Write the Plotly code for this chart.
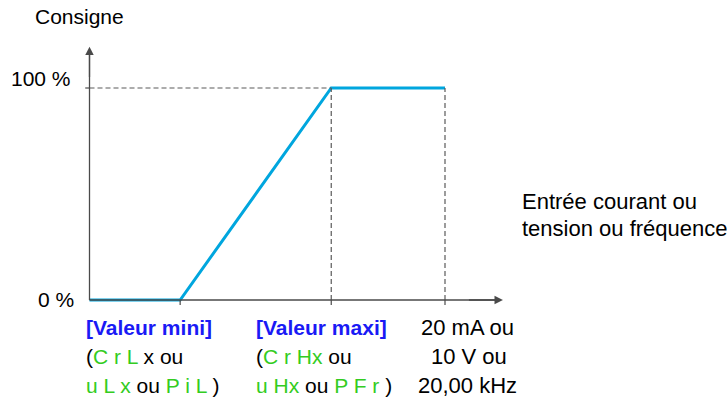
import plotly.graph_objects as go

# ---- data ----
x_input = [0, 25.5, 68, 100]          # % of input range: origin, mini, maxi, max
y_setpoint = [0, 0, 100, 100]         # % setpoint
x_ticks = [25.5, 68, 100]
y_labels = ["0 %", "100 %"]
y_label_vals = [0, 100]

W, H = 727, 399
BLUE = "#00A6DE"
AXIS = "#4a4a4a"
DASH = "#5a5a5a"
TXTBLUE = "#1A1AF5"
GREEN = "#33CC22"
FONT = "Liberation Sans, Arial, sans-serif"

# axis scale: x=0 -> px 89.5, x=100 -> px 445 ; y=0 -> px 300, y=100 -> px 88
sx = (445 - 89.5) / 100.0
sy = (300 - 88) / 100.0
xr = [-89.5 / sx, (W - 89.5) / sx]
yr = [-(H - 300) / sy, 300 / sy]

fig = go.Figure()

# dashed guides
xmaxi = x_input[2]
xmax = x_input[3]
fig.add_shape(type="line", x0=0, x1=xmaxi, y0=100, y1=100,
              line=dict(color=DASH, width=1.2, dash="5px,3px"))
fig.add_shape(type="line", x0=xmaxi, x1=xmaxi, y0=0, y1=100,
              line=dict(color=DASH, width=1.2, dash="5px,3px"))
fig.add_shape(type="line", x0=xmax, x1=xmax, y0=0, y1=100,
              line=dict(color=DASH, width=1.2, dash="5px,3px"))

# axes lines
x_axis_end = 116.3
y_axis_end = 119.5
fig.add_shape(type="line", x0=0, x1=x_axis_end - 2, y0=0, y1=0,
              line=dict(color=AXIS, width=1.3))
fig.add_shape(type="line", x0=0, x1=0, y0=0, y1=y_axis_end - 3,
              line=dict(color=AXIS, width=1.3))
# ticks
for xt in x_ticks:
    fig.add_shape(type="line", x0=xt, x1=xt, y0=0, y1=-2.4,
                  line=dict(color=AXIS, width=1.2))
for yv in y_label_vals[1:]:
    fig.add_shape(type="line", x0=-1.2, x1=0, y0=yv, y1=yv,
                  line=dict(color=AXIS, width=1.2))

# arrowheads
fig.add_annotation(x=x_axis_end, y=0, ax=x_axis_end - 10, ay=0,
                   xref="x", yref="y", axref="x", ayref="y", text="",
                   showarrow=True, arrowhead=2, arrowsize=1.3, arrowwidth=1.3,
                   arrowcolor=AXIS, standoff=0)
fig.add_annotation(x=0, y=y_axis_end, ax=0, ay=y_axis_end - 15,
                   xref="x", yref="y", axref="x", ayref="y", text="",
                   showarrow=True, arrowhead=2, arrowsize=1.3, arrowwidth=1.3,
                   arrowcolor=AXIS, standoff=0)

# the characteristic
fig.add_trace(go.Scatter(x=x_input, y=y_setpoint, mode="lines",
                         line=dict(color=BLUE, width=3), hoverinfo="skip",
                         showlegend=False))


def px(x):
    return x / W


def py(y):
    return 1 - y / H


def txt(text, x, y, anchor="left", color="black", bold=False, size=21):
    if bold:
        text = "<b>" + text + "</b>"
    fig.add_annotation(text=text, x=px(x), y=py(y), xref="paper", yref="paper",
                       xanchor=anchor, yanchor="middle", showarrow=False,
                       font=dict(family=FONT, size=size, color=color))


def g(s):
    return "<span style='color:%s'>%s</span>" % (GREEN, s)


txt("Consigne", 33, 16)
txt(y_labels[1], 73, 78, anchor="right")
txt(y_labels[0], 76, 299, anchor="right")
txt("Entrée courant ou", 520, 201, size=22)
txt("tension ou fréquence", 520, 228, size=22)

txt("[Valeur mini]", 84, 327, color=TXTBLUE, bold=True)
txt("[Valeur maxi]", 254, 327, color=TXTBLUE, bold=True)
txt("(" + g("C r L") + " x ou", 84, 356)
txt("(" + g("C r Hx") + " ou", 254, 356)
txt(g("u L x") + " ou " + g("P i L") + " )", 84, 385)
txt(g("u Hx") + " ou " + g("P F r") + " )", 254, 385)
txt("20 mA ou", 467, 327, anchor="center", size=22)
txt("10 V ou", 469, 356, anchor="center", size=22)
txt("20,00 kHz", 467, 385, anchor="center", size=22)

fig.update_layout(
    width=W, height=H, margin=dict(l=0, r=0, t=0, b=0),
    paper_bgcolor="white", plot_bgcolor="white",
    xaxis=dict(range=xr, visible=False, fixedrange=True),
    yaxis=dict(range=yr, visible=False, fixedrange=True),
    showlegend=False,
)

fig.write_html("out.html", config={"displayModeBar": False},
               post_script="document.body.style.margin='0px';"
                           "document.body.style.overflow='hidden';")
